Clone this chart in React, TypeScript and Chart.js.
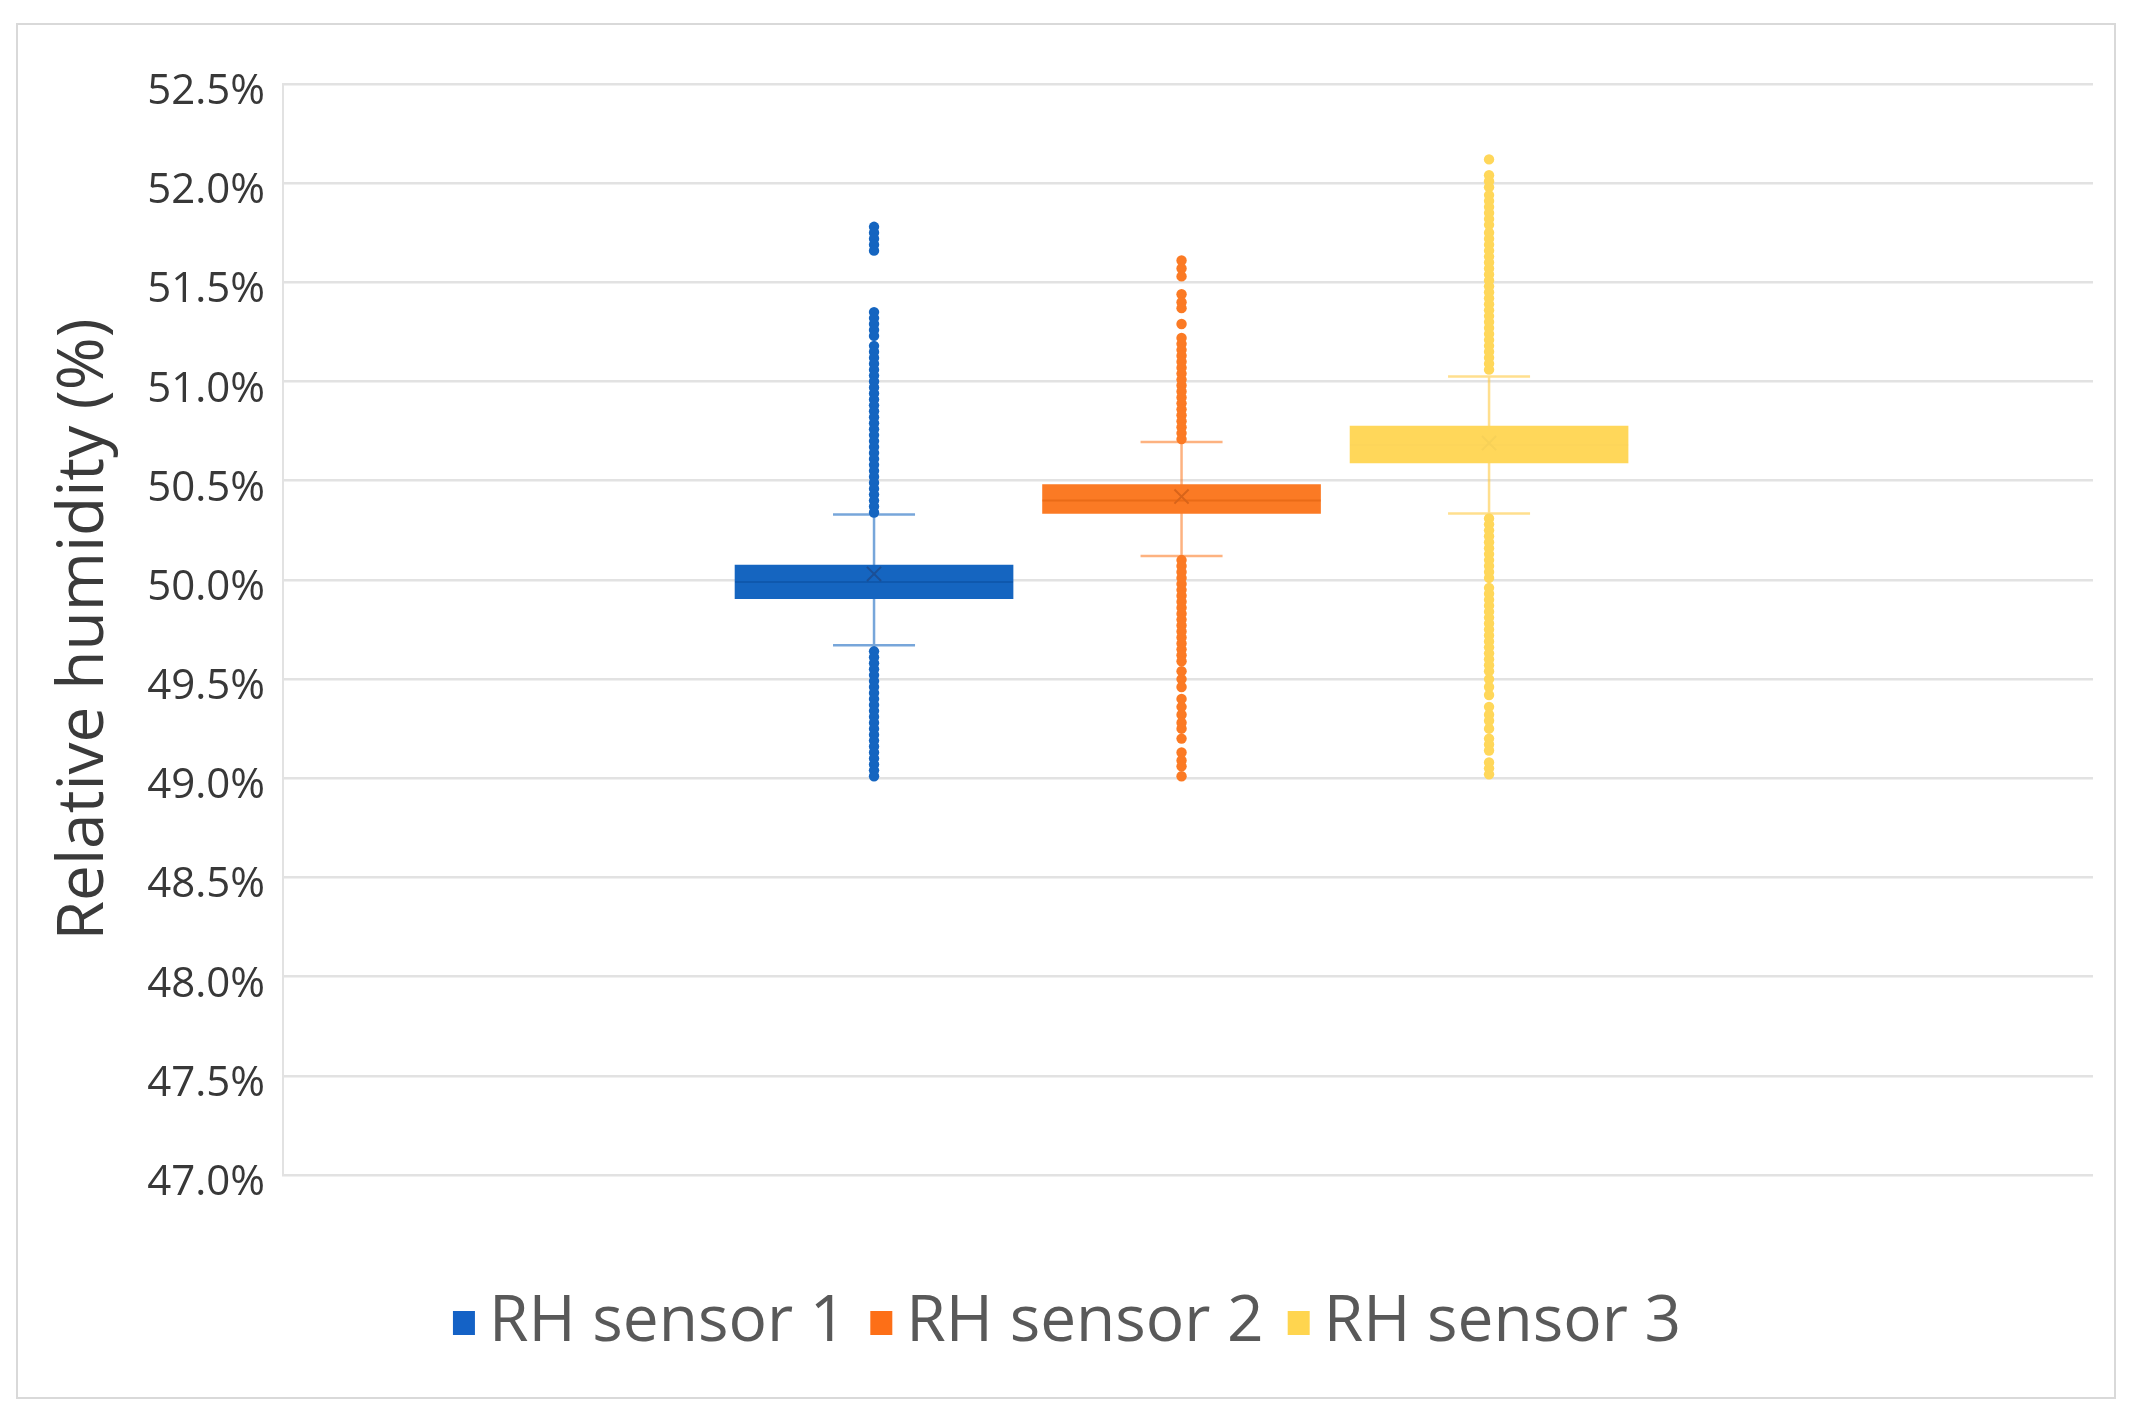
import React, { useEffect, useRef } from 'react';
import { Chart, registerables } from 'chart.js';

Chart.register(...registerables);

// ---------------- data ----------------
const sensorNames = ['RH sensor 1', 'RH sensor 2', 'RH sensor 3'];
const boxQ1 = [49.905, 50.335, 50.59];
const boxMedian = [49.99, 50.4, 50.68];
const boxQ3 = [50.075, 50.48, 50.775];
const boxMean = [50.03, 50.42, 50.69];
const whiskerLow = [49.67, 50.12, 50.335];
const whiskerHigh = [50.33, 50.695, 51.025];

const outliersSensor1 = [
  51.78, 51.75, 51.72, 51.69, 51.66,
  51.35, 51.32, 51.29, 51.26, 51.23,
  51.18, 51.15, 51.12, 51.09, 51.06, 51.03, 51.0, 50.97, 50.94, 50.91, 50.88, 50.85, 50.82, 50.79,
  50.76, 50.73, 50.7, 50.67, 50.64, 50.61, 50.58, 50.55, 50.52, 50.49, 50.46, 50.43, 50.4, 50.37, 50.34,
  49.64, 49.61, 49.58, 49.55, 49.52, 49.49, 49.46, 49.43, 49.4, 49.37, 49.34, 49.31, 49.28, 49.25,
  49.22, 49.19, 49.16, 49.13, 49.1, 49.07, 49.04, 49.01,
];
const outliersSensor2 = [
  51.61, 51.57, 51.53, 51.44, 51.4, 51.37, 51.29,
  51.22, 51.19, 51.16, 51.13, 51.1, 51.07, 51.04, 51.01, 50.98, 50.95, 50.92, 50.89, 50.86, 50.83,
  50.8, 50.77, 50.74, 50.71,
  50.1, 50.07, 50.04, 50.01, 49.98, 49.95, 49.92, 49.89, 49.86, 49.83, 49.8, 49.77, 49.74, 49.71,
  49.68, 49.65, 49.62, 49.59,
  49.54, 49.5, 49.46, 49.4, 49.36, 49.32, 49.28, 49.25, 49.2, 49.13, 49.09, 49.06, 49.01,
];
const outliersSensor3 = [
  52.12,
  52.04, 52.01, 51.98, 51.94, 51.91, 51.88, 51.85, 51.82, 51.79, 51.75, 51.72, 51.69, 51.66, 51.63,
  51.6, 51.57, 51.54, 51.51, 51.48, 51.45, 51.42, 51.39, 51.36, 51.33, 51.3, 51.27, 51.24, 51.21,
  51.18, 51.15, 51.12, 51.09, 51.06,
  50.31, 50.28, 50.25, 50.22, 50.19, 50.16, 50.13, 50.1, 50.07, 50.04, 50.01,
  49.96, 49.93, 49.9, 49.87, 49.84, 49.81, 49.78, 49.75, 49.72, 49.69, 49.66, 49.63, 49.6, 49.57, 49.54,
  49.5, 49.46, 49.42, 49.36, 49.32, 49.29, 49.25, 49.2, 49.17, 49.14, 49.08, 49.05, 49.02,
];
const outlierSets = [outliersSensor1, outliersSensor2, outliersSensor3];

const yTickMin = 47.0;
const yTickMax = 52.5;
const yTickStep = 0.5;
const yAxisTitle = 'Relative humidity (%)';

// ---------------- styles ----------------
const fillColors = ['#1565c0', '#fb7a24', '#ffd75a'];
const legendColors = ['#1462c6', '#fd6f17', '#ffd54f'];
const darkColors = ['#1b4f96', '#d8641a', '#f7d158'];
const medianColors = ['#0f58ad', '#ea6b17', '#fdd55a'];
const whiskerColors = ['rgba(21,101,192,0.58)', 'rgba(251,122,36,0.58)', 'rgba(255,200,60,0.58)'];
const FONT = "'Open Sans', sans-serif";
const CAP_HALF = 41;
const BOX_THICKNESS = 278;

// legend marker: a square placed inside a wider transparent canvas so that the
// gap between marker and text matches the original
function makeLegendMarker(color: string) {
  const c = document.createElement('canvas');
  c.width = 44;
  c.height = 24;
  const g = c.getContext('2d');
  if (g) {
    g.fillStyle = color;
    g.fillRect(20, 0, 22, 24);
  }
  return c;
}

const boxPlotPlugin = {
  id: 'boxWhiskers',
  beforeDraw(chart: any) {
    const { ctx, width, height } = chart;
    ctx.save();
    ctx.fillStyle = '#ffffff';
    ctx.fillRect(0, 0, width, height);
    ctx.strokeStyle = '#d9d9d9';
    ctx.lineWidth = 2;
    ctx.strokeRect(17, 24, 2098, 1374);
    ctx.restore();
  },
  beforeDatasetsDraw(chart: any) {
    const xs = chart.scales.x;
    const ys = chart.scales.y;
    const ctx = chart.ctx;
    ctx.save();
    ctx.lineWidth = 2.5;
    sensorNames.forEach((_, i) => {
      const cx = xs.getPixelForValue(i + 1);
      const yl = ys.getPixelForValue(whiskerLow[i]);
      const yh = ys.getPixelForValue(whiskerHigh[i]);
      ctx.strokeStyle = whiskerColors[i];
      ctx.beginPath();
      ctx.moveTo(cx, yh);
      ctx.lineTo(cx, yl);
      ctx.moveTo(cx - CAP_HALF, yh);
      ctx.lineTo(cx + CAP_HALF, yh);
      ctx.moveTo(cx - CAP_HALF, yl);
      ctx.lineTo(cx + CAP_HALF, yl);
      ctx.stroke();
    });
    ctx.restore();
  },
  afterDatasetDraw(chart: any, args: any) {
    const i = args.index;
    if (i >= sensorNames.length) return;
    const bar = args.meta.data[0];
    if (!bar) return;
    const ys = chart.scales.y;
    const ctx = chart.ctx;
    const ym = ys.getPixelForValue(boxMedian[i]);
    ctx.save();
    ctx.strokeStyle = medianColors[i];
    ctx.lineWidth = 2;
    ctx.beginPath();
    ctx.moveTo(bar.x - bar.width / 2, ym);
    ctx.lineTo(bar.x + bar.width / 2, ym);
    ctx.stroke();
    ctx.restore();
  },
};

export default function App() {
  const canvasRef = useRef<HTMLCanvasElement | null>(null);

  useEffect(() => {
    if (!canvasRef.current) return;
    Chart.defaults.font.family = FONT;

    const boxDatasets = sensorNames.map((name, i) => ({
      type: 'bar' as const,
      label: name,
      data: [{ x: i + 1, y: [boxQ1[i], boxQ3[i]] }],
      backgroundColor: fillColors[i],
      borderColor: fillColors[i],
      borderWidth: 0,
      barThickness: BOX_THICKNESS,
      grouped: false,
      pointStyle: makeLegendMarker(legendColors[i]),
      order: 3,
      xAxisID: 'x',
      yAxisID: 'y',
    }));
    const outlierDatasets = outlierSets.map((vals, i) => ({
      type: 'scatter' as const,
      label: sensorNames[i] + ' outliers',
      data: vals.map((v) => ({ x: i + 1, y: v })),
      pointRadius: 5.2,
      pointBackgroundColor: fillColors[i],
      pointBorderColor: fillColors[i],
      pointBorderWidth: 0,
      order: 2,
      xAxisID: 'x',
      yAxisID: 'y',
    }));
    const meanDatasets = boxMean.map((m, i) => ({
      type: 'scatter' as const,
      label: sensorNames[i] + ' mean',
      data: [{ x: i + 1, y: m }],
      pointStyle: 'crossRot',
      pointRadius: 10,
      pointBorderColor: darkColors[i],
      pointBackgroundColor: darkColors[i],
      pointBorderWidth: 2,
      order: 1,
      xAxisID: 'x',
      yAxisID: 'y',
    }));

    const chart = new Chart(canvasRef.current, {
      type: 'bar',
      data: { datasets: [...boxDatasets, ...outlierDatasets, ...meanDatasets] as any },
      options: {
        responsive: false,
        animation: false,
        events: [],
        layout: { padding: { top: 84, left: 0, right: 0, bottom: 60 } },
        plugins: {
          tooltip: { enabled: false },
          legend: {
            display: true,
            position: 'bottom',
            labels: {
              font: { family: FONT, size: 64 },
              color: '#595959',
              usePointStyle: true,
              pointStyleWidth: 4,
              boxHeight: 24,
              padding: 24,
              filter: (item: any) => item.datasetIndex < sensorNames.length,
            },
          },
        },
        scales: {
          x: {
            type: 'linear',
            min: -0.922,
            max: 4.964,
            offset: false,
            display: true,
            grid: { display: false },
            border: { display: false },
            ticks: { display: false },
            afterFit: (s: any) => {
              s.height = 92;
            },
          },
          y: {
            type: 'linear',
            position: 'left',
            min: yTickMin,
            max: yTickMax,
            beginAtZero: false,
            grid: { color: '#e2e2e2', lineWidth: 2.5, drawTicks: false },
            border: { display: true, color: '#e2e2e2', width: 2 },
            ticks: {
              stepSize: yTickStep,
              padding: 18,
              labelOffset: 8,
              color: '#383838',
              font: { family: FONT, size: 42 },
              callback: (v: any) => Number(v).toFixed(1) + '%',
            },
            title: {
              display: true,
              text: yAxisTitle,
              color: '#3a3a3a',
              font: { family: FONT, size: 64 },
              padding: { top: 46, bottom: 0 },
            },
            afterFit: (s: any) => {
              s.width = 283;
            },
          },
          yRight: {
            type: 'linear',
            position: 'right',
            display: true,
            grid: { display: false },
            border: { display: false },
            ticks: { display: false },
            afterFit: (s: any) => {
              s.width = 41;
            },
          },
        },
      } as any,
      plugins: [boxPlotPlugin],
    });
    return () => chart.destroy();
  }, []);

  return (
    <div style={{ position: 'absolute', left: 0, top: 0, width: 2134, height: 1425, background: '#ffffff' }}>
      <canvas ref={canvasRef} width={2134} height={1425} style={{ display: 'block' }} />
    </div>
  );
}
